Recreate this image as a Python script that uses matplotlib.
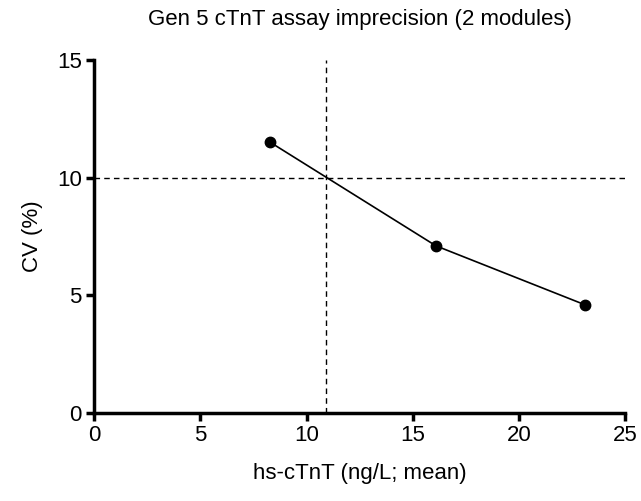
import matplotlib
matplotlib.use("Agg")
import matplotlib.pyplot as plt

# data
conc = [8.3, 16.1, 23.1]
cv = [11.5, 7.1, 4.6]
cv_limit = 10
conc_at_limit = 10.9
x_ticks = [0, 5, 10, 15, 20, 25]
y_ticks = [0, 5, 10, 15]

plt.rcParams['font.family'] = ['Liberation Sans', 'DejaVu Sans']

fig = plt.figure(figsize=(6.41, 5.01), dpi=100)
ax = fig.add_axes([0.147, 0.176, 0.828, 0.704])

ax.plot(conc, cv, color='black', lw=1.2, marker='o', ms=7.5, zorder=3)
ax.axhline(cv_limit, color='black', lw=1, ls=(0, (4, 3)))
ax.axvline(conc_at_limit, color='black', lw=1, ls=(0, (4, 3)))

ax.set_xlim(0, 25)
ax.set_ylim(0, 15)
ax.set_xticks(x_ticks)
ax.set_yticks(y_ticks)

for s in ['top', 'right']:
    ax.spines[s].set_visible(False)
for s in ['left', 'bottom']:
    ax.spines[s].set_linewidth(2.5)
ax.tick_params(width=2.5, length=6, labelsize=16, pad=3)

ax.set_xlabel('hs-cTnT (ng/L; mean)', fontsize=16, labelpad=12)
ax.set_ylabel('CV (%)', fontsize=16, labelpad=10)
ax.set_title('Gen 5 cTnT assay imprecision (2 modules)', fontsize=16, pad=25)

fig.savefig('out.png', dpi=100)
